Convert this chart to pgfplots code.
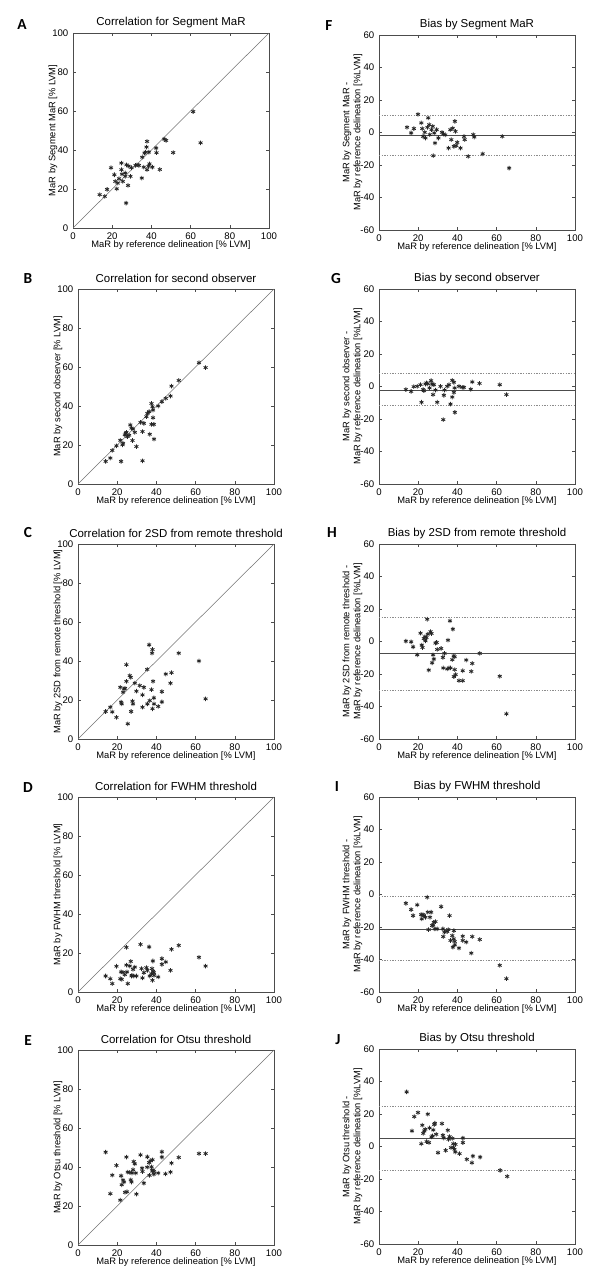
\documentclass[border=0pt]{standalone}
\usepackage{fontspec}
\setmainfont{Liberation Sans}
\newfontfamily\letterfont{Carlito}
\usepackage{pgfplots}
\pgfplotsset{compat=1.18}
\pgfplotsset{
 base/.style={scale only axis, width=147pt, height=146.25pt, xmin=0, xmax=100,
   xtick={0,20,...,100}, tick align=inside, major tick length=2pt,
   axis line style={black!70, line width=0.4pt}, tick style={black!70, line width=0.4pt},
   tick label style={font=\fontsize{7.2}{8.5}\selectfont},
   /pgf/number format/assume math mode=true,
   label style={font=\fontsize{7}{8.2}\selectfont},
   title style={font=\fontsize{8.6}{10}\selectfont, at={(axis description cs:0.5,1.056)}, anchor=center, yshift=-6pt},
   xlabel={MaR by reference delineation [\% LVM]},
   xlabel style={at={(axis description cs:0.5,-0.087)}, anchor=center},
   anchor=south west},
 pts/.style={only marks, mark=asterisk, mark size=1.7pt, black!85, mark options={line width=0.6pt}},
 corr/.style={base, ymin=0, ymax=100, ytick={0,20,...,100},
   ylabel style={at={(axis description cs:-0.102,0.5)}, anchor=center}},
 bias/.style={base, ymin=-60, ymax=60, ytick={-60,-40,...,60},
   ylabel style={at={(axis description cs:-0.135,0.5)}, anchor=center, align=center}},
 diag/.style={black!55, line width=0.4pt},
 meanl/.style={black!70, line width=0.55pt},
 sdl/.style={black!45, line width=0.4pt, dash pattern=on 1pt off 1pt},
}
\begin{document}
\begin{tikzpicture}
\useasboundingbox (0,0) rectangle (450pt,964.5pt);
% ---------- A
\begin{axis}[corr, at={(54.75pt,793.5pt)}, title={Correlation for Segment MaR}, ylabel={MaR by Segment MaR [\% LVM]}]
\addplot[diag] coordinates {(0,0) (100,100)};
\addplot[pts] coordinates {(13.6,17.1) (16.2,16.2) (17.4,19.8) (19.4,30.9) (21.1,27.3) (21.6,23.9) (22.3,20.1) (22.8,23.0) (23.5,25.3) (24.7,33.3) (24.7,29.9) (25.0,27.6) (25.4,23.9) (26.7,28.2) (26.7,26.5) (27.3,32.4) (27.1,12.8) (28.1,21.8) (28.4,31.7) (29.3,26.5) (29.8,30.9) (31.9,32.1) (32.7,32.4) (33.6,32.1) (35.1,25.6) (35.3,36.3) (36.5,38.4) (36.1,31.2) (37.0,38.9) (37.5,41.5) (37.8,44.4) (37.8,29.9) (38.5,31.6) (38.7,38.9) (39.0,32.9) (40.5,31.2) (42.4,41.0) (42.6,38.6) (44.3,30.0) (46.5,45.6) (47.5,44.9) (51.1,38.7) (61.3,59.7) (65.1,43.7)};
\end{axis}
% ---------- F
\begin{axis}[bias, at={(284.25pt,792pt)}, title={Bias by Segment MaR}, ylabel={MaR by Segment MaR -\\MaR by reference delineation [\%LVM]}]
\addplot[sdl] coordinates {(0,10.8) (100,10.8)};
\addplot[sdl] coordinates {(0,-14.3) (100,-14.3)};
\addplot[meanl] coordinates {(0,-1.75) (100,-1.75)};
\addplot[pts] coordinates {(14.3,3.2) (16.4,-0.3) (17.8,2.4) (19.9,11.2) (21.6,5.9) (22.1,2.4) (22.5,-2.4) (23.3,0.1) (23.7,-3.4) (24.7,3.2) (25.1,9.0) (25.6,4.8) (25.9,-1.3) (26.8,1.7) (27.4,3.8) (27.7,-14.3) (28.2,-0.3) (28.6,-6.5) (29.4,1.7) (30.3,-3.4) (32.1,0.1) (32.9,-0.9) (33.8,-1.5) (35.5,-9.6) (36.4,1.7) (36.9,-4.4) (37.6,2.6) (38.7,6.9) (38.2,-8.5) (39.0,0.7) (39.4,-8.1) (39.9,-6.1) (41.6,-9.6) (43.4,-2.4) (43.7,-4.4) (45.5,-14.7) (48.1,-1.3) (48.6,-2.8) (52.9,-13.1) (62.9,-2.4) (66.4,-21.9)};
\end{axis}
% ---------- B
\begin{axis}[corr, at={(58.5pt,601.5pt)}, title={Correlation for second observer}, ylabel={MaR by second observer [\% LVM]}]
\addplot[diag] coordinates {(0,0) (100,100)};
\addplot[pts] coordinates {(14.1,11.6) (16.5,13.3) (17.5,17.2) (19.6,19.6) (21.6,22.4) (22.0,11.6) (22.7,20.1) (23.0,20.9) (23.9,25.2) (24.4,26.0) (24.7,26.5) (25.2,24.3) (26.1,25.0) (26.7,30.3) (27.3,28.6) (27.8,22.3) (28.1,28.2) (29.0,26.5) (29.8,19.2) (31.9,31.6) (32.9,26.9) (32.9,11.9) (33.6,31.1) (34.9,34.5) (35.4,36.2) (36.3,37.1) (36.6,25.5) (37.5,41.3) (37.5,30.6) (38.0,39.6) (38.3,34.0) (38.3,37.9) (38.7,30.6) (38.8,23.0) (40.9,40.0) (42.8,42.2) (44.8,43.9) (47.2,45.1) (47.7,50.2) (51.4,53.1) (61.7,62.2) (65.1,59.7)};
\end{axis}
% ---------- G
\begin{axis}[bias, at={(284.25pt,601.5pt)}, title={Bias by second observer}, ylabel={MaR by second observer -\\MaR by reference delineation [\%LVM]}]
\addplot[sdl] coordinates {(0,7.9) (100,7.9)};
\addplot[sdl] coordinates {(0,-11.8) (100,-11.8)};
\addplot[meanl] coordinates {(0,-2.15) (100,-2.15)};
\addplot[pts] coordinates {(13.7,-1.9) (16.4,-3.0) (17.7,-0.1) (19.5,0.1) (21.2,1.1) (21.7,-9.7) (22.5,-1.9) (22.9,-2.6) (23.7,1.5) (24.2,2.2) (24.9,1.7) (25.8,-0.9) (26.6,3.6) (27.1,1.5) (27.6,-5.0) (28.0,1.1) (28.8,-2.2) (29.7,-9.7) (31.4,0.1) (32.8,-20.4) (33.1,-5.4) (33.4,-2.2) (34.8,0.1) (35.7,1.1) (36.5,-10.8) (37.4,-6.5) (37.4,3.8) (38.2,2.6) (38.2,-3.6) (38.6,-0.9) (38.7,-15.9) (40.8,0.1) (42.5,-0.5) (43.3,-0.5) (46.8,-1.7) (47.6,2.8) (51.3,1.9) (61.6,1.1) (65.0,-5.0)};
\end{axis}
% ---------- C
\begin{axis}[corr, at={(58.5pt,410.25pt)}, title={Correlation for 2SD from remote threshold}, ylabel={MaR by 2SD from remote threshold [\% LVM]}]
\addplot[diag] coordinates {(0,0) (100,100)};
\addplot[pts] coordinates {(14.1,14.1) (16.5,16.3) (17.5,13.9) (19.6,11.1) (21.6,26.5) (22.0,18.9) (22.3,18.0) (23.0,24.0) (23.5,25.7) (24.0,26.0) (24.7,38.1) (24.7,29.6) (25.4,7.8) (26.4,32.5) (26.9,31.6) (27.1,14.1) (27.8,19.4) (28.1,18.0) (29.0,28.6) (29.8,24.5) (31.5,27.4) (32.9,22.6) (32.9,16.3) (33.6,26.5) (35.3,35.7) (35.4,18.0) (36.3,48.3) (36.6,19.7) (37.5,25.3) (37.8,44.0) (38.0,45.9) (38.0,15.5) (38.3,29.6) (38.7,21.1) (38.8,18.0) (40.9,16.7) (42.8,24.3) (42.8,19.0) (44.8,33.3) (47.2,28.6) (47.7,34.0) (51.4,44.0) (61.7,40.0) (65.1,20.6)};
\end{axis}
% ---------- H
\begin{axis}[bias, at={(284.25pt,410.25pt)}, title={Bias by 2SD from remote threshold}, ylabel={MaR by 2SD from remote threshold -\\MaR by reference delineation [\%LVM]}]
\addplot[sdl] coordinates {(0,15.1) (100,15.1)};
\addplot[sdl] coordinates {(0,-30.2) (100,-30.2)};
\addplot[meanl] coordinates {(0,-7.3) (100,-7.3)};
\addplot[pts] coordinates {(13.7,0.2) (16.4,-0.2) (17.4,-3.3) (19.5,-8.2) (21.2,5.1) (21.8,-2.2) (22.2,-3.7) (22.9,1.8) (23.4,2.9) (23.7,0.4) (24.2,2.4) (24.6,13.7) (24.9,4.5) (25.4,-17.6) (26.3,6.1) (26.8,4.9) (27.1,-13.1) (27.6,-8.2) (28.0,-10.8) (28.8,-1.0) (29.4,-0.6) (29.7,-4.9) (31.7,-4.3) (32.6,-9.8) (32.8,-16.3) (33.4,-7.3) (34.8,-16.9) (35.2,0.8) (35.7,-16.3) (36.2,12.7) (36.5,-16.3) (37.4,-11.2) (37.7,7.6) (38.1,-8.8) (38.2,-21.6) (38.6,-9.4) (38.6,-17.3) (39.1,-20.4) (40.8,-24.1) (42.7,-24.1) (42.7,-18.0) (44.5,-11.4) (47.1,-18.4) (47.6,-13.5) (51.4,-7.3) (61.6,-21.4) (65.0,-44.5)};
\end{axis}
% ---------- D
\begin{axis}[corr, at={(58.5pt,220.5pt)}, title={Correlation for FWHM threshold}, ylabel={MaR by FWHM threshold [\% LVM]}]
\addplot[diag] coordinates {(0,0) (100,100)};
\addplot[pts] coordinates {(14.1,8.2) (16.5,6.8) (17.5,4.3) (19.6,13.2) (21.6,6.8) (22.0,10.3) (22.3,6.5) (23.0,10.1) (23.9,8.9) (24.7,22.9) (24.7,13.8) (25.0,10.3) (25.4,4.3) (26.4,13.3) (26.9,15.7) (27.3,8.2) (27.6,8.5) (28.1,11.6) (28.4,8.2) (29.0,12.8) (29.8,8.2) (31.9,24.4) (32.4,12.0) (32.9,7.2) (33.6,9.9) (34.9,12.5) (35.4,11.1) (36.3,23.1) (36.6,8.2) (37.5,9.4) (37.8,12.0) (38.0,6.0) (38.2,15.9) (38.3,10.6) (38.7,9.9) (38.8,8.5) (40.9,7.7) (42.8,17.1) (42.8,14.2) (44.8,15.4) (47.2,11.1) (47.7,21.9) (51.4,23.9) (61.7,17.8) (65.1,13.3)};
\end{axis}
% ---------- I
\begin{axis}[bias, at={(284.25pt,220.5pt)}, title={Bias by FWHM threshold}, ylabel={MaR by FWHM threshold -\\MaR by reference delineation [\%LVM]}]
\addplot[sdl] coordinates {(0,-1.3) (100,-1.3)};
\addplot[sdl] coordinates {(0,-40.6) (100,-40.6)};
\addplot[meanl] coordinates {(0,-21.2) (100,-21.2)};
\addplot[pts] coordinates {(13.7,-5.4) (16.4,-9.3) (17.4,-13.0) (19.5,-6.4) (21.5,-12.4) (21.8,-15.0) (22.4,-12.4) (22.9,-13.0) (23.7,-14.0) (24.6,-1.7) (24.9,-10.9) (25.3,-21.6) (26.0,-14.0) (26.6,-10.9) (27.1,-19.1) (27.6,-18.7) (28.0,-17.1) (28.5,-21.2) (28.8,-16.7) (29.7,-21.2) (31.7,-7.5) (32.6,-21.2) (32.8,-25.9) (33.4,-23.2) (34.8,-22.8) (35.3,-21.6) (36.0,-13.0) (36.5,-28.3) (37.4,-25.3) (37.7,-32.4) (38.1,-27.3) (38.2,-22.2) (38.6,-28.9) (38.7,-31.0) (40.8,-33.0) (42.7,-25.7) (42.7,-28.3) (44.5,-29.3) (47.1,-36.1) (47.6,-25.9) (51.4,-27.7) (61.6,-43.6) (65.0,-51.8)};
\end{axis}
% ---------- E
\begin{axis}[corr, at={(58.5pt,30.75pt)}, title={Correlation for Otsu threshold}, ylabel={MaR by Otsu threshold [\% LVM]}]
\addplot[diag] coordinates {(0,0) (100,100)};
\addplot[pts] coordinates {(14.1,47.6) (16.5,26.3) (17.5,35.8) (19.6,40.8) (21.6,23.0) (22.0,35.5) (22.3,30.9) (23.0,33.3) (23.5,32.3) (24.0,27.0) (24.7,45.1) (25.0,27.3) (25.4,37.4) (26.4,37.2) (26.9,33.4) (27.3,32.3) (27.6,36.9) (28.1,38.6) (28.4,42.8) (29.0,41.6) (29.5,36.9) (29.8,26.1) (31.9,46.2) (32.7,39.4) (32.9,37.7) (33.6,31.7) (35.3,39.9) (35.4,45.2) (36.3,42.3) (36.5,35.7) (37.1,43.2) (37.5,40.1) (37.8,38.4) (38.0,43.7) (38.3,38.1) (38.7,36.3) (38.8,37.7) (40.9,36.9) (42.8,47.8) (42.8,45.1) (44.6,36.5) (47.2,37.4) (47.7,42.0) (51.4,44.9) (61.7,46.9) (65.1,46.9)};
\end{axis}
% ---------- J
\begin{axis}[bias, at={(284.25pt,31.5pt)}, title={Bias by Otsu threshold}, ylabel={MaR by Otsu threshold -\\MaR by reference delineation [\%LVM]}]
\addplot[sdl] coordinates {(0,24.6) (100,24.6)};
\addplot[sdl] coordinates {(0,-14.5) (100,-14.5)};
\addplot[meanl] coordinates {(0,5.0) (100,5.0)};
\addplot[pts] coordinates {(14.1,33.6) (16.8,9.6) (18.0,18.4) (19.9,20.9) (21.6,1.7) (22.1,13.1) (22.6,8.1) (23.1,9.6) (23.6,10.6) (24.3,3.0) (24.9,19.9) (25.5,2.4) (25.8,11.4) (26.8,5.9) (27.3,6.5) (27.7,10.2) (28.2,13.5) (28.5,14.3) (29.2,7.5) (30.1,-3.8) (32.1,14.1) (32.6,6.9) (33.0,5.2) (34.0,-2.4) (35.1,10.0) (35.5,4.4) (36.0,6.1) (36.7,-0.7) (37.4,5.0) (37.9,1.7) (38.0,-0.7) (38.5,-1.7) (38.9,-3.4) (39.0,1.3) (41.1,-4.4) (42.8,5.2) (42.8,2.4) (44.8,-7.9) (47.4,-10.0) (47.9,-5.9) (51.6,-6.5) (61.8,-14.7) (65.4,-18.4)};
\end{axis}
% ---------- panel letters
\begin{scope}[every node/.style={font=\letterfont\bfseries\fontsize{11.5}{12}\selectfont, inner sep=0pt}]
\node at (16.5pt,945.75pt) {A};
\node at (246.75pt,945pt) {F};
\node at (21pt,755.25pt) {B};
\node at (252pt,755.25pt) {G};
\node at (21pt,564.75pt) {C};
\node at (249pt,564.75pt) {H};
\node at (21pt,373.5pt) {D};
\node at (252.75pt,374.25pt) {I};
\node at (21pt,183.75pt) {E};
\node at (253.5pt,184.5pt) {J};
\end{scope}
\end{tikzpicture}
\end{document}
